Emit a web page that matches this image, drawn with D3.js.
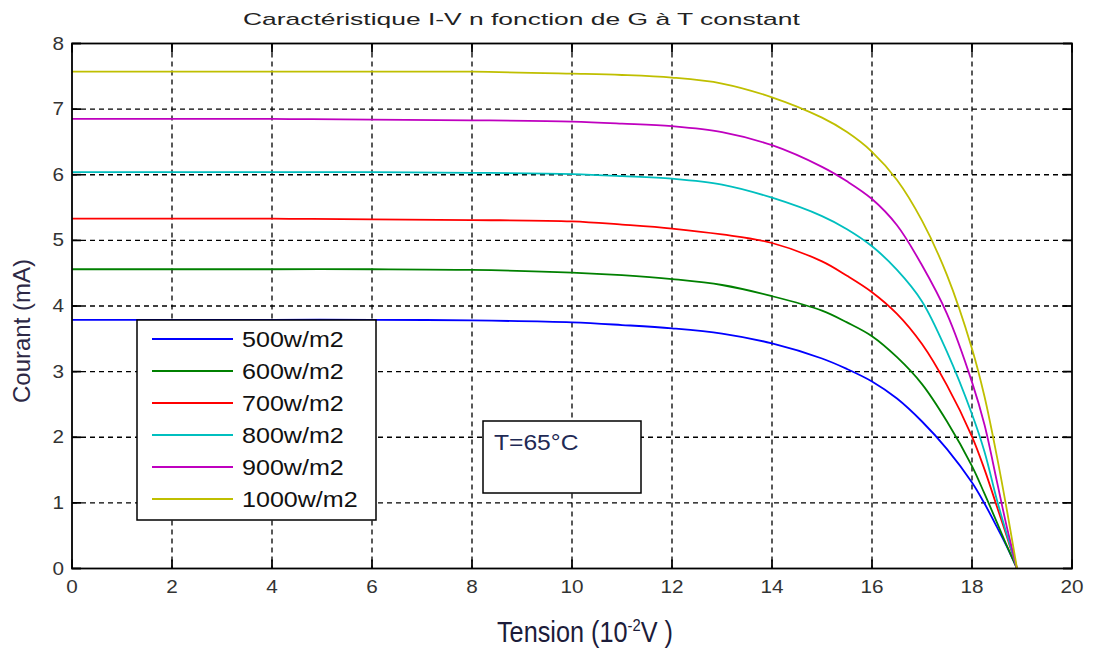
<!DOCTYPE html>
<html>
<head>
<meta charset="utf-8">
<script src="https://cdn.jsdelivr.net/npm/d3@7"></script>
<style>
  body { margin: 0; background: #fff; }
  svg { display: block; font-family: "Liberation Sans", Arial, sans-serif; }
</style>
</head>
<body>
<div id="chart"></div>
<script>
// tension (10^-2 V) sample points
const volts = [0, 2, 4, 6, 8, 10, 11, 12, 13, 14, 15, 15.5, 16, 16.5, 17, 17.5, 18, 18.25, 18.5, 18.7, 18.9];

// courant (mA) for each irradiance
const g500 = [3.79, 3.79, 3.79, 3.79, 3.78, 3.75, 3.71, 3.66, 3.58, 3.43, 3.20, 3.04, 2.85, 2.59, 2.24, 1.82, 1.31, 0.99, 0.63, 0.33, 0];
const g600 = [4.56, 4.56, 4.56, 4.56, 4.55, 4.51, 4.47, 4.41, 4.32, 4.15, 3.93, 3.75, 3.54, 3.22, 2.81, 2.24, 1.56, 1.14, 0.70, 0.34, 0];
const g700 = [5.33, 5.33, 5.33, 5.32, 5.31, 5.29, 5.24, 5.18, 5.09, 4.96, 4.68, 4.46, 4.21, 3.88, 3.42, 2.79, 2.01, 1.51, 0.94, 0.48, 0];
const g800 = [6.04, 6.04, 6.04, 6.04, 6.03, 6.01, 5.98, 5.94, 5.85, 5.65, 5.37, 5.17, 4.91, 4.55, 4.07, 3.30, 2.35, 1.78, 1.04, 0.51, 0];
const g900 = [6.85, 6.85, 6.85, 6.84, 6.83, 6.81, 6.78, 6.74, 6.65, 6.45, 6.12, 5.90, 5.63, 5.23, 4.62, 3.88, 2.84, 2.19, 1.32, 0.62, 0];
const g1000 = [7.57, 7.57, 7.57, 7.57, 7.57, 7.54, 7.52, 7.48, 7.39, 7.18, 6.87, 6.65, 6.35, 5.92, 5.30, 4.47, 3.35, 2.62, 1.70, 0.88, 0];

const labels = ["500w/m2", "600w/m2", "700w/m2", "800w/m2", "900w/m2", "1000w/m2"];
const seriesValues = [g500, g600, g700, g800, g900, g1000];
const xTicks = [0, 2, 4, 6, 8, 10, 12, 14, 16, 18, 20];
const yTicks = [0, 1, 2, 3, 4, 5, 6, 7, 8];

const dims = { width: 1093, height: 652 };
const margin = { left: 72, right: 21, top: 43.5, bottom: 83.5 };
const colors = d3.scaleOrdinal(labels, ["#0000ff", "#008000", "#ff0000", "#00bfbf", "#bf00bf", "#bfbf00"]);

const svg = d3.select("#chart").append("svg")
  .attr("width", dims.width)
  .attr("height", dims.height);

const x = d3.scaleLinear().domain([0, 20]).range([margin.left, dims.width - margin.right]);
const y = d3.scaleLinear().domain([0, 8]).range([dims.height - margin.bottom, margin.top]);

const [x0, x1] = x.range();
const [y0, y1] = y.range(); // y0 bottom, y1 top

// stretch a text horizontally so it spans the wanted width
const fitText = (sel, px, py, width) => {
  const w = sel.node().getComputedTextLength();
  sel.attr("x", 0).attr("y", 0)
    .attr("transform", `translate(${px},${py}) scale(${width / w},1)`);
};

// grid
const grid = svg.append("g")
  .attr("stroke", "#000")
  .attr("stroke-width", 1.3)
  .attr("stroke-dasharray", "5,4");
grid.selectAll(".gx").data(xTicks.slice(1, -1)).enter().append("line")
  .attr("x1", d => x(d)).attr("x2", d => x(d))
  .attr("y1", y1).attr("y2", y0);
grid.selectAll(".gy").data(yTicks.slice(1, -1)).enter().append("line")
  .attr("x1", x0).attr("x2", x1)
  .attr("y1", d => y(d)).attr("y2", d => y(d));

// curves
const line = d3.line()
  .x((d, i) => x(volts[i]))
  .y(d => y(d))
  .curve(d3.curveCatmullRom.alpha(0.5));

svg.append("g").selectAll("path").data(seriesValues).enter().append("path")
  .attr("fill", "none")
  .attr("stroke", (d, i) => colors(labels[i]))
  .attr("stroke-width", 1.8)
  .attr("d", line);

// frame + inward ticks on all sides
const frame = svg.append("g").attr("stroke", "#000").attr("stroke-width", 1.8);
frame.append("rect")
  .attr("x", x0).attr("y", y1)
  .attr("width", x1 - x0).attr("height", y0 - y1)
  .attr("fill", "none");
const tl = 9;
xTicks.forEach(t => {
  frame.append("line").attr("x1", x(t)).attr("x2", x(t)).attr("y1", y0).attr("y2", y0 - tl);
  frame.append("line").attr("x1", x(t)).attr("x2", x(t)).attr("y1", y1).attr("y2", y1 + tl);
});
yTicks.forEach(t => {
  frame.append("line").attr("y1", y(t)).attr("y2", y(t)).attr("x1", x0).attr("x2", x0 + tl);
  frame.append("line").attr("y1", y(t)).attr("y2", y(t)).attr("x1", x1).attr("x2", x1 - tl);
});

// tick labels
svg.append("g").selectAll("text").data(xTicks).enter().append("text")
  .attr("text-anchor", "middle")
  .attr("font-size", 18)
  .attr("fill", "#333")
  .attr("transform", d => `translate(${x(d)},${y0 + 24}) scale(1.15,1)`)
  .text(d => d);
svg.append("g").selectAll("text").data(yTicks).enter().append("text")
  .attr("text-anchor", "end")
  .attr("font-size", 18)
  .attr("fill", "#333")
  .attr("transform", d => `translate(${x0 - 8},${y(d) + 6}) scale(1.15,1)`)
  .text(d => d);

// title
const title = svg.append("text")
  .attr("font-size", 17)
  .attr("fill", "#222")
  .text("Caractéristique I-V n fonction de G à T constant");
fitText(title, 243, 25, 557);

// axis labels
const xl = svg.append("text").attr("font-size", 29).attr("fill", "#1c1c3a");
xl.append("tspan").text("Tension (10");
xl.append("tspan").attr("font-size", 17).attr("dy", -11).text("-2");
xl.append("tspan").attr("dy", 11).text("V )");
fitText(xl, 497, 642, 176);

svg.append("text")
  .attr("transform", `translate(30,${(y0 + y1) / 2 + 25}) rotate(-90)`)
  .attr("text-anchor", "middle")
  .attr("font-size", 24)
  .attr("fill", "#2d2845")
  .text("Courant (mA)");

// legend
const legend = svg.append("g").attr("transform", "translate(137,320)");
legend.append("rect")
  .attr("width", 239).attr("height", 200)
  .attr("fill", "#fff").attr("stroke", "#000").attr("stroke-width", 1.5);
const rows = legend.selectAll(".row").data(labels).enter().append("g")
  .attr("transform", (d, i) => `translate(0,${19 + i * 32})`);
rows.append("line")
  .attr("x1", 15).attr("x2", 96)
  .attr("stroke", d => colors(d)).attr("stroke-width", 2);
rows.append("text")
  .attr("font-size", 22)
  .attr("fill", "#111")
  .attr("transform", "translate(105,8) scale(1.14,1)")
  .text(d => d);

// annotation
const note = svg.append("g").attr("transform", "translate(483,421)");
note.append("rect")
  .attr("width", 158).attr("height", 72)
  .attr("fill", "#fff").attr("stroke", "#000").attr("stroke-width", 1.5);
note.append("text")
  .attr("font-size", 22)
  .attr("fill", "#1f2a55")
  .attr("transform", "translate(11,29) scale(1.12,1)")
  .text("T=65°C");
</script>
</body>
</html>
